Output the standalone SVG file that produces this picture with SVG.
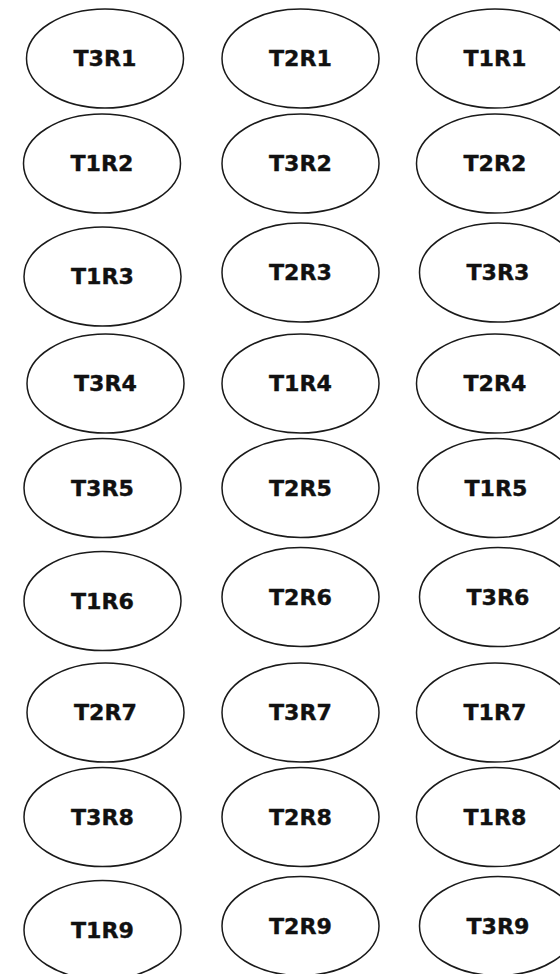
<svg xmlns="http://www.w3.org/2000/svg" width="560" height="974" viewBox="0 0 560 974">
<style>
.n ellipse{fill:#fff;stroke:#1a1a1a;stroke-width:1.5}
.n text{font-family:"DejaVu Sans",Verdana,sans-serif;font-weight:bold;font-size:21px;fill:#111;stroke:#111;stroke-width:0.35;text-anchor:middle}
</style>
<rect width="560" height="974" fill="#fff"/>
<g id="connectors"></g>
<g id="T3R1" class="n"><ellipse cx="105" cy="58.5" rx="78.5" ry="49.5"/><text x="105" y="66" textLength="63" lengthAdjust="spacingAndGlyphs">T3R1</text></g>
<g id="T2R1" class="n"><ellipse cx="300.5" cy="58.5" rx="78.5" ry="49.5"/><text x="300.5" y="66" textLength="63" lengthAdjust="spacingAndGlyphs">T2R1</text></g>
<g id="T1R1" class="n"><ellipse cx="495" cy="58.5" rx="78.5" ry="49.5"/><text x="495" y="66" textLength="63" lengthAdjust="spacingAndGlyphs">T1R1</text></g>
<g id="T1R2" class="n"><ellipse cx="102" cy="163.5" rx="78.5" ry="49.5"/><text x="102" y="171" textLength="63" lengthAdjust="spacingAndGlyphs">T1R2</text></g>
<g id="T3R2" class="n"><ellipse cx="300.5" cy="163.5" rx="78.5" ry="49.5"/><text x="300.5" y="171" textLength="63" lengthAdjust="spacingAndGlyphs">T3R2</text></g>
<g id="T2R2" class="n"><ellipse cx="495" cy="163.5" rx="78.5" ry="49.5"/><text x="495" y="171" textLength="63" lengthAdjust="spacingAndGlyphs">T2R2</text></g>
<g id="T1R3" class="n"><ellipse cx="102.5" cy="276.5" rx="78.5" ry="49.5"/><text x="102.5" y="284" textLength="63" lengthAdjust="spacingAndGlyphs">T1R3</text></g>
<g id="T2R3" class="n"><ellipse cx="300.5" cy="272.5" rx="78.5" ry="49.5"/><text x="300.5" y="280" textLength="63" lengthAdjust="spacingAndGlyphs">T2R3</text></g>
<g id="T3R3" class="n"><ellipse cx="498" cy="272.5" rx="78.5" ry="49.5"/><text x="498" y="280" textLength="63" lengthAdjust="spacingAndGlyphs">T3R3</text></g>
<g id="T3R4" class="n"><ellipse cx="105.5" cy="383.5" rx="78.5" ry="49.5"/><text x="105.5" y="391" textLength="63" lengthAdjust="spacingAndGlyphs">T3R4</text></g>
<g id="T1R4" class="n"><ellipse cx="300.5" cy="383.5" rx="78.5" ry="49.5"/><text x="300.5" y="391" textLength="63" lengthAdjust="spacingAndGlyphs">T1R4</text></g>
<g id="T2R4" class="n"><ellipse cx="495" cy="383.5" rx="78.5" ry="49.5"/><text x="495" y="391" textLength="63" lengthAdjust="spacingAndGlyphs">T2R4</text></g>
<g id="T3R5" class="n"><ellipse cx="102.5" cy="488" rx="78.5" ry="49.5"/><text x="102.5" y="495.5" textLength="63" lengthAdjust="spacingAndGlyphs">T3R5</text></g>
<g id="T2R5" class="n"><ellipse cx="300.5" cy="488" rx="78.5" ry="49.5"/><text x="300.5" y="495.5" textLength="63" lengthAdjust="spacingAndGlyphs">T2R5</text></g>
<g id="T1R5" class="n"><ellipse cx="496" cy="488" rx="78.5" ry="49.5"/><text x="496" y="495.5" textLength="63" lengthAdjust="spacingAndGlyphs">T1R5</text></g>
<g id="T1R6" class="n"><ellipse cx="102.5" cy="601" rx="78.5" ry="49.5"/><text x="102.5" y="608.5" textLength="63" lengthAdjust="spacingAndGlyphs">T1R6</text></g>
<g id="T2R6" class="n"><ellipse cx="300.5" cy="597" rx="78.5" ry="49.5"/><text x="300.5" y="604.5" textLength="63" lengthAdjust="spacingAndGlyphs">T2R6</text></g>
<g id="T3R6" class="n"><ellipse cx="498" cy="597" rx="78.5" ry="49.5"/><text x="498" y="604.5" textLength="63" lengthAdjust="spacingAndGlyphs">T3R6</text></g>
<g id="T2R7" class="n"><ellipse cx="105.5" cy="712.5" rx="78.5" ry="49.5"/><text x="105.5" y="720" textLength="63" lengthAdjust="spacingAndGlyphs">T2R7</text></g>
<g id="T3R7" class="n"><ellipse cx="300.5" cy="712.5" rx="78.5" ry="49.5"/><text x="300.5" y="720" textLength="63" lengthAdjust="spacingAndGlyphs">T3R7</text></g>
<g id="T1R7" class="n"><ellipse cx="495" cy="712.5" rx="78.5" ry="49.5"/><text x="495" y="720" textLength="63" lengthAdjust="spacingAndGlyphs">T1R7</text></g>
<g id="T3R8" class="n"><ellipse cx="102.5" cy="817" rx="78.5" ry="49.5"/><text x="102.5" y="824.5" textLength="63" lengthAdjust="spacingAndGlyphs">T3R8</text></g>
<g id="T2R8" class="n"><ellipse cx="300.5" cy="817" rx="78.5" ry="49.5"/><text x="300.5" y="824.5" textLength="63" lengthAdjust="spacingAndGlyphs">T2R8</text></g>
<g id="T1R8" class="n"><ellipse cx="495" cy="817" rx="78.5" ry="49.5"/><text x="495" y="824.5" textLength="63" lengthAdjust="spacingAndGlyphs">T1R8</text></g>
<g id="T1R9" class="n"><ellipse cx="102.5" cy="930" rx="78.5" ry="49.5"/><text x="102.5" y="937.5" textLength="63" lengthAdjust="spacingAndGlyphs">T1R9</text></g>
<g id="T2R9" class="n"><ellipse cx="300.5" cy="926" rx="78.5" ry="49.5"/><text x="300.5" y="933.5" textLength="63" lengthAdjust="spacingAndGlyphs">T2R9</text></g>
<g id="T3R9" class="n"><ellipse cx="498" cy="926" rx="78.5" ry="49.5"/><text x="498" y="933.5" textLength="63" lengthAdjust="spacingAndGlyphs">T3R9</text></g>
</svg>
